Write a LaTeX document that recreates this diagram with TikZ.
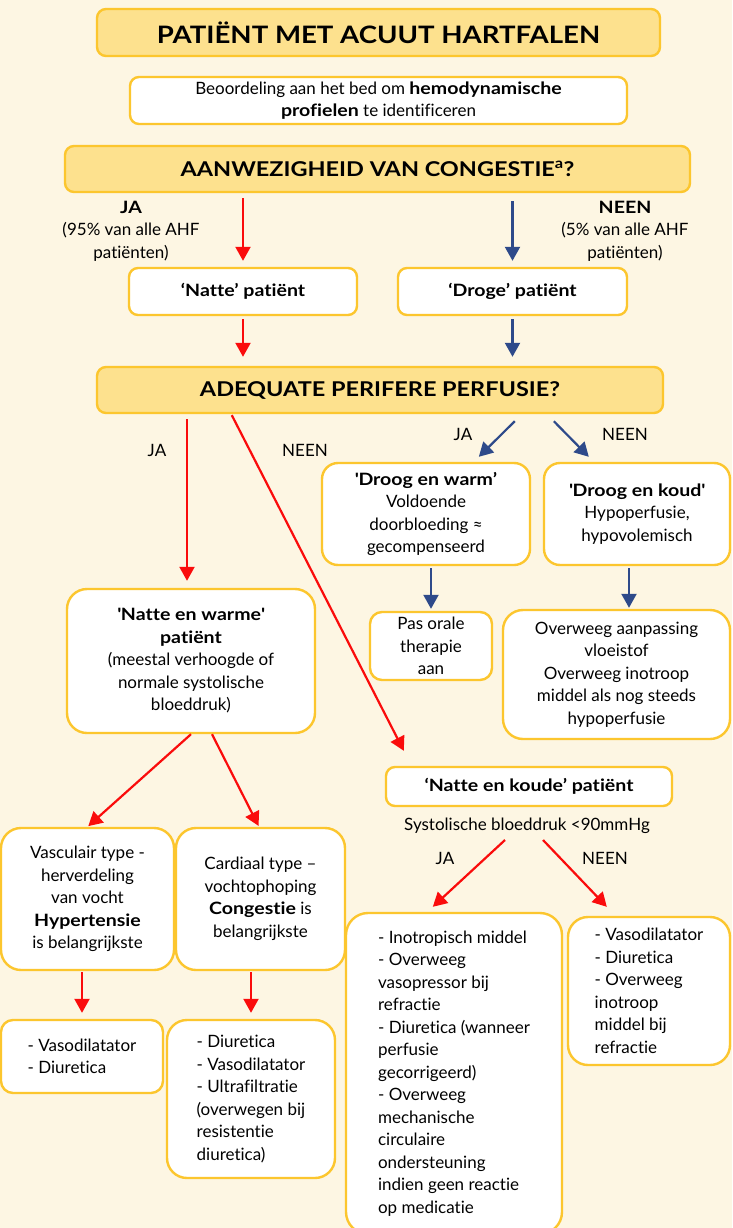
\documentclass[tikz,border=0pt]{standalone}
\usepackage{fontspec}
\setmainfont{Lato}[Ligatures=NoCommon, BoldFeatures={FakeStretch=1.15}]
\usetikzlibrary{arrows.meta,calc}

\definecolor{paper}{RGB}{253,246,227}
\definecolor{hdrfill}{RGB}{253,225,142}
\definecolor{rim}{RGB}{252,198,46}
\definecolor{wetred}{RGB}{250,12,12}
\definecolor{dryblue}{RGB}{46,74,138}

\newcommand{\bodyfont}{\fontsize{17}{22.5}\selectfont}

\tikzset{
  hdrbox/.style={draw=rim, fill=hdrfill, line width=2.4pt, rounded corners=9pt,
    inner sep=0pt, align=center, font=\bfseries\fontsize{20.4}{25}\selectfont},
  wbox/.style={draw=rim, fill=white, line width=2.4pt, rounded corners=#1,
    inner sep=0pt, align=center, font=\bodyfont},
  wbox/.default=9pt,
  lbox/.style={draw=rim, fill=white, line width=2.4pt, rounded corners=20pt,
    inner sep=0pt, align=left, font=\bodyfont},
  lbl/.style={inner sep=0pt, align=center, font=\bodyfont},
  rarr/.style={draw=wetred, line width=2.2pt, -{Triangle[length=14pt,width=15pt]}},
  barr/.style={draw=dryblue, line width=2.2pt, -{Triangle[length=14pt,width=15pt]}},
}

\begin{document}
\begin{tikzpicture}[x=1pt,y=-1pt]
\fill[paper] (0,0) rectangle (732,1228);
\useasboundingbox (0,0) rectangle (732,1228);

% top of the chart
\node[hdrbox, minimum width=563pt, minimum height=47pt,
  font=\bfseries\fontsize{24}{28}\selectfont] (title) at (378.5,32.5)
  {PATIËNT MET ACUUT HARTFALEN};
\node[wbox, minimum width=497pt, minimum height=47pt] (bed) at (378.5,100.5)
  {Beoordeling aan het bed om \textbf{hemodynamische}\\\textbf{profielen} te identificeren};
\node[hdrbox, minimum width=625pt, minimum height=46pt] (cong) at (377.5,169)
  {AANWEZIGHEID VAN CONGESTIE\textsuperscript{a}?};

% congestion yes / no
\node[lbl] (wetlbl) at (131,231) {\textbf{JA}\\(95\% van alle AHF\\patiënten)};
\node[lbl] (drylbl) at (625,231) {\textbf{NEEN}\\(5\% van alle AHF\\patiënten)};

\node[wbox, minimum width=228pt, minimum height=47pt, font=\bfseries\bodyfont] (wet) at (243,291.5)
  {‘Natte’ patiënt};
\node[wbox, minimum width=229pt, minimum height=47pt, font=\bfseries\bodyfont] (dry) at (512.5,291.5)
  {‘Droge’ patiënt};

\node[hdrbox, minimum width=566pt, minimum height=46pt] (perf) at (380,390)
  {ADEQUATE PERIFERE PERFUSIE?};

% perfusion labels
\node[lbl] (perfja) at (157,450) {JA};
\node[lbl] (perfneen) at (305,450) {NEEN};
\node[lbl] (dryja) at (463,434) {JA};
\node[lbl] (dryneen) at (625,434) {NEEN};

% dry branch
\node[wbox=16pt, minimum width=208pt, minimum height=102pt] (drywarm) at (426,514)
  {\textbf{\textquotesingle Droog en warm’}\\Voldoende\\doorbloeding ≈\\gecompenseerd};
\node[wbox=16pt, minimum width=186pt, minimum height=102pt] (drycold) at (637,514)
  {\textbf{\textquotesingle Droog en koud\textquotesingle}\\Hypoperfusie,\\hypovolemisch};
\node[wbox=12pt, minimum width=122pt, minimum height=68pt] (oral) at (431,646)
  {Pas orale\\therapie\\aan};
\node[wbox=20pt, minimum width=227pt, minimum height=129pt] (fluid) at (616.5,674.5)
  {Overweeg aanpassing\\vloeistof\\Overweeg inotroop\\middel als nog steeds\\hypoperfusie};

% wet and warm branch
\node[wbox=20pt, minimum width=248pt, minimum height=144pt] (wetwarm) at (191,661)
  {\textbf{\textquotesingle Natte en warme\textquotesingle}\\\textbf{patiënt}\\(meestal verhoogde of\\normale systolische\\bloeddruk)};
\node[wbox=20pt, minimum width=173pt, minimum height=142pt] (vasc) at (87.5,899)
  {Vasculair type -\\herverdeling\\van vocht\\\textbf{Hypertensie}\\is belangrijkste};
\node[wbox=20pt, minimum width=169pt, minimum height=142pt] (card) at (260.5,899)
  {Cardiaal type –\\vochtophoping\\\textbf{Congestie} is\\belangrijkste};
\node[lbox, rounded corners=12pt, minimum width=162pt, minimum height=73pt] (vasctx) at (82,1056.5)
  {- Vasodilatator\\- Diuretica};
\node[lbox, minimum width=168pt, minimum height=158pt] (cardtx) at (251,1099)
  {- Diuretica\\- Vasodilatator\\- Ultrafiltratie\\(overwegen bij\\resistentie\\diuretica)};

% wet and cold branch
\node[wbox, minimum width=286pt, minimum height=39pt, font=\bfseries\bodyfont] (wetcold) at (529,786.5)
  {‘Natte en koude’ patiënt};
\node[lbl] (sbp) at (527,826) {Systolische bloeddruk <90mmHg};
\node[lbl] (sbpja) at (445,858) {JA};
\node[lbl] (sbpneen) at (605,858) {NEEN};
\node[lbox, rounded corners=22pt, minimum width=216pt, minimum height=321pt] (inotr) at (454,1073.5)
  {- Inotropisch middel\\- Overweeg\\vasopressor bij\\refractie\\- Diuretica (wanneer\\perfusie\\gecorrigeerd)\\- Overweeg\\mechanische\\circulaire\\ondersteuning\\indien geen reactie\\op medicatie};
\node[lbox, minimum width=162pt, minimum height=148pt] (vasod) at (649,991)
  {- Vasodilatator\\- Diuretica\\- Overweeg\\inotroop\\middel bij\\refractie};

% connectors
\draw[rarr, shorten <=5pt, shorten >=6pt] (cong.south -| wet.north) -- (wet.north);
\draw[barr, shorten <=8pt, shorten >=6pt] (cong.south -| dry.north) -- (dry.north);
\draw[rarr, shorten <=3pt, shorten >=9pt] (wet.south) -- (wet.south |- perf.north);
\draw[barr, shorten <=3pt, shorten >=9pt] (dry.south) -- (dry.south |- perf.north);

\draw[rarr, shorten <=5pt, shorten >=7pt] ([xshift=-4pt]perf.south -| wetwarm.north) -- ([xshift=-4pt]wetwarm.north);
\draw[rarr] ($(perf.south west)+(136,1)$) -- ($(wetcold.north west)+(19,-15)$);
\draw[barr] ($(perf.south west)+(419,7)$) -- ($(drywarm.north west)+(158,-5)$);
\draw[barr] ($(perf.south west)+(458,7)$) -- ($(drycold.north west)+(46,-5)$);

\draw[barr, shorten <=2pt, shorten >=2pt] (drywarm.south -| oral.north) -- (oral.north);
\draw[barr, shorten <=2pt, shorten >=1pt] ([xshift=-8pt]drycold.south) -- ([xshift=-8pt]drycold.south |- fluid.north);

\draw[rarr, shorten >=1pt] (wetwarm.south) -- (vasc.north);
\draw[rarr, shorten >=1pt] ([xshift=21pt]wetwarm.south) -- ([xshift=-1.5pt]card.north);
\draw[rarr, shorten <=1pt, shorten >=6pt] (vasc.south -| vasctx.north) -- (vasctx.north);
\draw[rarr, shorten <=1pt, shorten >=6pt] (card.south -| cardtx.north) -- (cardtx.north);

\draw[rarr] ($(sbp.center)+(-22,14)$) -- ($(inotr.north west)+(88,-5)$);
\draw[rarr] ($(sbp.center)+(16,14)$) -- ($(vasod.north west)+(40,-9)$);
\end{tikzpicture}
\end{document}
